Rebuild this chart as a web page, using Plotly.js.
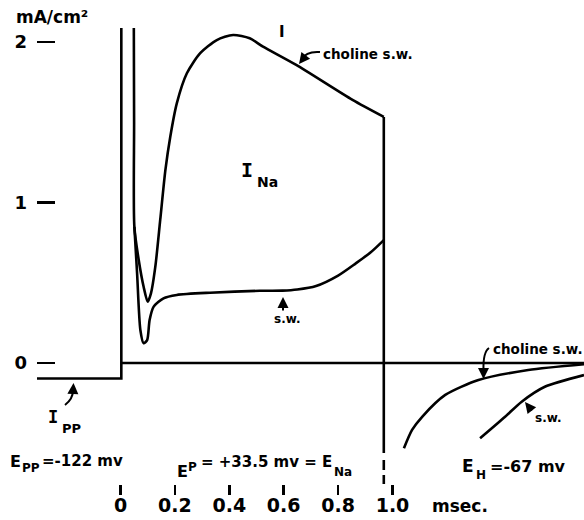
<!DOCTYPE html>
<html>
<head>
<meta charset="utf-8">
<script src="https://cdn.plot.ly/plotly-3.0.1.min.js"></script>
<style>html,body{margin:0;padding:0;background:#fff;}#chart{width:584px;height:520px;}</style>
</head>
<body>
<div id="chart"></div>
<script>
// ---- data (time in msec, current in mA/cm2) ----
const stepT = [-0.307, 0.003, 0.003];
const stepI = [-0.097, -0.097, 2.087];
const zeroT = [0.003, 1.704];
const zeroI = [0, 0];

const cholineT = [0.049, 0.050, 0.051, 0.067, 0.085, 0.100, 0.112, 0.128, 0.146, 0.165, 0.183, 0.207, 0.244, 0.293, 0.354, 0.414, 0.475, 0.524, 0.646, 0.853, 0.968];
const cholineI = [2.087, 1.500, 0.849, 0.642, 0.475, 0.382, 0.434, 0.600, 0.891, 1.202, 1.410, 1.618, 1.805, 1.930, 2.012, 2.044, 2.023, 1.971, 1.857, 1.639, 1.533];

const swT = [0.051, 0.061, 0.073, 0.085, 0.098, 0.107, 0.122, 0.158, 0.207, 0.329, 0.512, 0.596, 0.650, 0.719, 0.800, 0.865, 0.920, 0.968];
const swI = [0.849, 0.559, 0.206, 0.123, 0.143, 0.268, 0.351, 0.403, 0.424, 0.438, 0.450, 0.451, 0.458, 0.480, 0.545, 0.621, 0.690, 0.766];

const offT = [0.968, 0.968];
const offI = [1.533, -0.561];
const offDashT = [0.968, 0.968];
const offDashI = [-0.604, -0.760];

const cholTailT = [1.042, 1.072, 1.109, 1.194, 1.316, 1.499, 1.704];
const cholTailI = [-0.531, -0.417, -0.335, -0.199, -0.106, -0.044, -0.008];
const swTailT = [1.322, 1.414, 1.475, 1.560, 1.704];
const swTailI = [-0.469, -0.335, -0.241, -0.148, -0.075];

const xTickVals = [0, 0.2, 0.4, 0.6, 0.8, 1.0];
const xTickText = ["0", "0.2", "0.4", "0.6", "0.8", "1.0"];
const yTickVals = [0, 1, 2];
const yTickText = ["0", "1", "2"];

// ---- styling helpers ----
const FONT = "DejaVu Sans";
const LW = 2.6;
const PL = 37, PR = 584, PT = 20, PB = 484;
const X = px => (px - 120.5) / 272;      // pixel -> msec (for shapes/arrows)
const Y = py => (363 - py) / 160.5;      // pixel -> mA/cm2
const PX = px => (px - PL) / (PR - PL);  // pixel -> paper
const PY = py => (PB - py) / (PB - PT);

function line(x, y, opts) {
  return {
    x: x, y: y, type: 'scatter', mode: 'lines', hoverinfo: 'skip',
    line: Object.assign({color: '#000', width: LW}, (opts && opts.line) || {})
  };
}

const traces = [
  line(stepT, stepI),
  line(zeroT, zeroI),
  line(cholineT, cholineI, {line: {shape: 'spline', smoothing: 0.7}}),
  line(swT, swI, {line: {shape: 'spline', smoothing: 0.7}}),
  line(offT, offI),
  line(offDashT, offDashI, {line: {dash: '10px,5px'}}),
  line(cholTailT, cholTailI, {line: {shape: 'spline', smoothing: 0.7}}),
  line(swTailT, swTailI, {line: {shape: 'spline', smoothing: 0.7}})
];

function txt(px, py, text, size, family) {
  return {
    x: PX(px), y: PY(py), xref: 'paper', yref: 'paper', text: text, showarrow: false,
    font: {family: family || FONT, size: size, color: '#000', weight: 'bold'},
    xanchor: 'center', yanchor: 'middle'
  };
}
function head(px, py, fromPx, fromPy) {
  return {
    x: X(px), y: Y(py), xref: 'x', yref: 'y', ax: X(fromPx), ay: Y(fromPy),
    axref: 'x', ayref: 'y', text: '', showarrow: true, arrowhead: 2,
    arrowsize: 1.1, arrowwidth: 2, arrowcolor: '#000'
  };
}
function curve(x1, y1, cx, cy, x2, y2) {
  return {
    type: 'path', xref: 'x', yref: 'y',
    path: `M ${X(x1)} ${Y(y1)} Q ${X(cx)} ${Y(cy)} ${X(x2)} ${Y(y2)}`,
    line: {color: '#000', width: 2}
  };
}

const annotations = [
  txt(52, 17, 'mA/cm²', 17),
  txt(282, 32, 'I', 15),
  txt(368, 54, 'choline s.w.', 13.5),
  txt(287, 319, 's.w.', 12),
  txt(247, 170, 'I', 20, 'DejaVu Sans Mono'),
  txt(267, 182, 'Na', 14),
  txt(53, 417, 'I', 17, 'DejaVu Sans Mono'),
  txt(71, 428, 'PP', 13),
  txt(538, 349, 'choline s.w.', 13.5),
  txt(548, 418, 's.w.', 12),
  txt(15, 461, 'E', 16),
  txt(31, 468, 'PP', 12),
  txt(82, 461, '=-122 mv', 15),
  txt(182, 471, 'E', 16),
  txt(193, 467, 'P', 12),
  txt(266, 462, '= +33.5 mv = E', 15),
  txt(343, 472, 'Na', 12),
  txt(468, 466, 'E', 17),
  txt(481, 475, 'H', 12),
  txt(528, 466, '=-67 mv', 16),
  txt(460, 506, 'msec.', 17),
  head(299, 64, 306, 55),
  head(283, 297, 283, 312),
  head(73.5, 383, 73, 392),
  head(483.5, 379, 483.5, 368),
  head(525, 402, 533, 412)
];

const shapes = [
  curve(320, 52, 306, 51, 302, 59),
  curve(65, 405, 73, 399, 73, 390),
  curve(489, 348, 483, 352, 483.5, 370)
];

const layout = {
  width: 584, height: 520,
  margin: {l: PL, r: 584 - PR, t: PT, b: 520 - PB, pad: 0},
  paper_bgcolor: '#fff', plot_bgcolor: '#fff',
  showlegend: false,
  xaxis: {
    range: [X(PL), X(PR)], showgrid: false, zeroline: false, showline: false,
    tickmode: 'array', tickvals: xTickVals, ticktext: xTickText,
    ticks: 'outside', ticklen: 10, tickwidth: 2.5, tickcolor: '#000',
    tickfont: {family: FONT, size: 19, color: '#000', weight: 'bold'},
    ticklabelstandoff: -6, fixedrange: true
  },
  yaxis: {
    range: [Y(PB), Y(PT)], showgrid: false, zeroline: false, showline: false,
    tickmode: 'array', tickvals: yTickVals, ticktext: yTickText,
    ticks: 'inside', ticklen: 18, tickwidth: 2.5, tickcolor: '#000',
    tickfont: {family: FONT, size: 18, color: '#000', weight: 'bold'},
    ticklabelstandoff: 9, fixedrange: true
  },
  annotations: annotations,
  shapes: shapes
};

Plotly.newPlot('chart', traces, layout, {displayModeBar: false, staticPlot: true});
</script>
</body>
</html>
